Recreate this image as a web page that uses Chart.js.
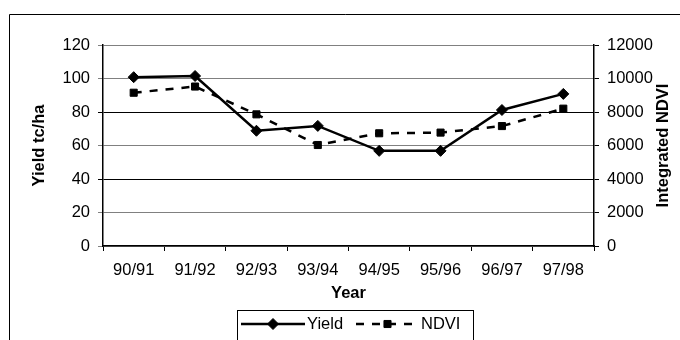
<!DOCTYPE html>
<html lang="en">
  <head>
    <meta charset="UTF-8" />
    <title>Yield and NDVI</title>
    <script src="https://cdn.jsdelivr.net/npm/chart.js"></script>
    <style>
      body {
        margin: 0;
        background: #fff;
      }
      #wrap {
        width: 680px;
        height: 340px;
      }
    </style>
  </head>
  <body>
    <div id="wrap"><canvas id="yieldChart" width="680" height="340"></canvas></div>

    <script>
      const years = ["90/91", "91/92", "92/93", "93/94", "94/95", "95/96", "96/97", "97/98"];
      const yieldValues = [100.8, 101.5, 68.8, 71.7, 56.8, 56.8, 81.2, 90.8];
      const ndviValues = [9150, 9520, 7860, 6030, 6730, 6770, 7160, 8200];
      const yieldTicks = [0, 20, 40, 60, 80, 100, 120];
      const ndviTicks = [0, 2000, 4000, 6000, 8000, 10000, 12000];

      const FONT = "'Liberation Sans', Arial, sans-serif";
      const SIZE = 16.5;

      // outer frame, right axis title and legend box drawn by hand
      const framePlugin = {
        id: "frame",
        afterDraw(chart) {
          const ctx = chart.ctx;
          ctx.save();
          ctx.strokeStyle = "#000";
          ctx.lineWidth = 1;
          ctx.beginPath();
          ctx.moveTo(9.5, 345);
          ctx.lineTo(9.5, 14.5);
          ctx.lineTo(685, 14.5);
          ctx.stroke();

          // right title reads bottom to top, as in the sheet
          const area = chart.chartArea;
          ctx.save();
          ctx.translate(663, (area.top + area.bottom) / 2);
          ctx.rotate(-Math.PI / 2);
          ctx.fillStyle = "#000";
          ctx.font = "bold " + SIZE + "px " + FONT;
          ctx.textAlign = "center";
          ctx.textBaseline = "middle";
          ctx.fillText("Integrated NDVI", 0, 0);
          ctx.restore();

          // legend
          const ly = 324;
          ctx.strokeRect(237.5, 310.5, 236, 40);
          const sets = chart.data.datasets;
          const items = [
            { ds: sets[0], x0: 241, x1: 305, tx: 307 },
            { ds: sets[1], x0: 356, x1: 419, tx: 421 },
          ];
          items.forEach((it) => {
            ctx.save();
            ctx.strokeStyle = it.ds.borderColor;
            ctx.lineWidth = it.ds.borderWidth;
            ctx.setLineDash(it.ds.borderDash || []);
            ctx.beginPath();
            ctx.moveTo(it.x0, ly);
            ctx.lineTo(it.x1, ly);
            ctx.stroke();
            ctx.restore();
            ctx.fillStyle = "#000";
            Chart.helpers.drawPoint(
              ctx,
              {
                pointStyle: it.ds.pointStyle,
                radius: it.ds.pointRadius,
                borderWidth: 1,
              },
              (it.x0 + it.x1) / 2,
              ly
            );
            ctx.font = SIZE + "px " + FONT;
            ctx.textBaseline = "middle";
            ctx.textAlign = "left";
            ctx.fillText(it.ds.label, it.tx, ly);
          });
          ctx.restore();
        },
      };

      const gridColor = (c) => (c.tick && (c.tick.value === 40 || c.tick.value === 80) ? "#000" : "#808080");

      const ctx = document.getElementById("yieldChart").getContext("2d");
      new Chart(ctx, {
        type: "line",
        data: {
          labels: years,
          datasets: [
            {
              label: "Yield",
              data: yieldValues,
              yAxisID: "y",
              borderColor: "#000",
              backgroundColor: "#000",
              borderWidth: 2.5,
              pointStyle: "rectRot",
              pointRadius: 5.5,
              pointBorderWidth: 1,
              tension: 0,
            },
            {
              label: "NDVI",
              data: ndviValues,
              yAxisID: "y2",
              borderColor: "#000",
              backgroundColor: "#000",
              borderWidth: 2.5,
              borderDash: [8, 8],
              pointStyle: "rect",
              pointRadius: 5,
              pointBorderWidth: 1,
              tension: 0,
            },
          ],
        },
        options: {
          responsive: false,
          animation: false,
          layout: { padding: { top: 45, left: 0, right: 0, bottom: 0 } },
          plugins: {
            legend: { display: false },
            tooltip: { enabled: false },
          },
          scales: {
            x: {
              offset: true,
              grid: {
                offset: true,
                drawOnChartArea: false,
                tickLength: 5,
                color: "#000",
              },
              border: { color: "#000", width: 1.5 },
              ticks: {
                color: "#000",
                font: { family: FONT, size: SIZE },
                padding: 10,
                maxRotation: 0,
              },
              title: {
                display: true,
                text: "Year",
                color: "#000",
                font: { family: FONT, size: SIZE, weight: "bold" },
                padding: { top: 0, bottom: 37 },
              },
              afterFit(scale) {
                scale.height = 94;
              },
            },
            y: {
              position: "left",
              min: 0,
              max: 120,
              afterBuildTicks(scale) {
                scale.ticks = yieldTicks.map((v) => ({ value: v }));
              },
              grid: { color: gridColor, tickLength: 5, lineWidth: 1 },
              border: { color: "#000", width: 1.5 },
              ticks: {
                color: "#000",
                font: { family: FONT, size: SIZE },
                padding: 8,
              },
              title: {
                display: true,
                text: "Yield tc/ha",
                color: "#000",
                font: { family: FONT, size: SIZE, weight: "bold" },
                padding: { top: 30, bottom: 0 },
              },
              afterFit(scale) {
                scale.width = 103;
              },
            },
            y2: {
              position: "right",
              min: 0,
              max: 12000,
              afterBuildTicks(scale) {
                scale.ticks = ndviTicks.map((v) => ({ value: v }));
              },
              grid: { drawOnChartArea: false, tickLength: 5, color: "#000" },
              border: { color: "#000", width: 1.5 },
              ticks: {
                color: "#000",
                font: { family: FONT, size: SIZE },
                padding: 8,
                callback: (v) => String(v),
              },
              afterFit(scale) {
                scale.width = 86;
              },
            },
          },
        },
        plugins: [framePlugin],
      });
    </script>
  </body>
</html>
